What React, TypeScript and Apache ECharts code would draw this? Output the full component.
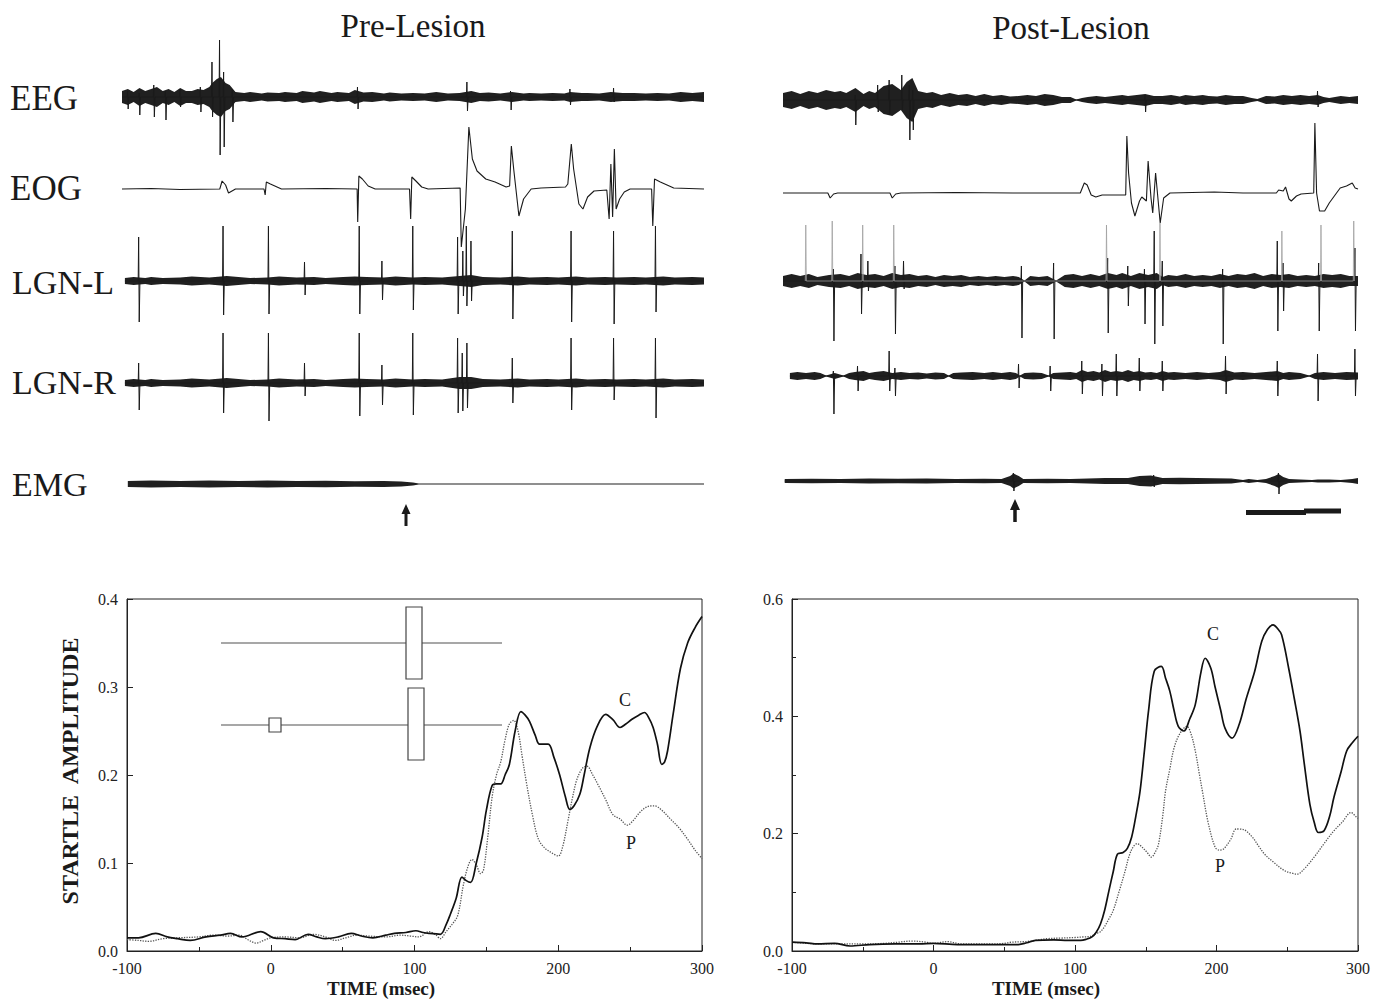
import React, { useEffect, useRef } from "react";
import * as echarts from "echarts";

const SERIF = "'Liberation Serif', 'DejaVu Serif', 'Times New Roman', serif";

// ---------------- Startle amplitude curves (time msec, amplitude) ----------------
const preC = [[-100,0.015],[-92,0.015],[-80,0.02],[-72,0.016],[-65,0.014],[-56,0.012],[-45,0.016],[-35,0.018],[-28,0.02],[-20,0.016],[-7,0.022],[2,0.015],[10,0.014],[17,0.013],[26,0.019],[32,0.016],[38,0.014],[47,0.016],[56,0.02],[63,0.017],[71,0.015],[80,0.018],[86,0.02],[94,0.021],[101,0.023],[106,0.021],[110,0.02],[118,0.019],[122,0.03],[125,0.042],[129,0.06],[133,0.084],[136,0.08],[139,0.078],[143,0.1],[147,0.129],[150,0.16],[154,0.188],[157,0.19],[160,0.19],[163,0.2],[166,0.212],[170,0.25],[174,0.272],[177,0.268],[180,0.261],[184,0.245],[187,0.235],[193,0.235],[197,0.22],[201,0.2],[205,0.175],[208,0.161],[211,0.165],[215,0.178],[218,0.2],[222,0.231],[227,0.255],[233,0.269],[238,0.263],[243,0.254],[247,0.258],[251,0.263],[256,0.268],[260,0.271],[263,0.265],[266,0.254],[269,0.235],[272,0.212],[274,0.215],[276,0.227],[280,0.27],[285,0.321],[290,0.35],[295,0.367],[300,0.38]];
const preP = [[-100,0.013],[-92,0.012],[-85,0.011],[-75,0.014],[-65,0.015],[-50,0.016],[-40,0.018],[-30,0.017],[-22,0.018],[-15,0.012],[-10,0.009],[-5,0.012],[0,0.015],[10,0.016],[20,0.015],[30,0.019],[38,0.016],[45,0.012],[52,0.015],[60,0.018],[68,0.017],[80,0.016],[90,0.018],[97,0.017],[103,0.016],[110,0.022],[115,0.018],[118,0.014],[122,0.022],[126,0.03],[130,0.04],[134,0.075],[137,0.095],[140,0.104],[143,0.098],[146,0.088],[148,0.092],[151,0.13],[154,0.175],[157,0.2],[160,0.215],[163,0.24],[166,0.258],[169,0.262],[172,0.25],[175,0.22],[178,0.19],[182,0.155],[186,0.128],[190,0.118],[195,0.112],[200,0.108],[203,0.118],[207,0.15],[210,0.175],[213,0.195],[217,0.208],[220,0.21],[224,0.2],[228,0.188],[233,0.172],[238,0.155],[243,0.15],[248,0.143],[252,0.148],[257,0.158],[262,0.164],[267,0.165],[272,0.16],[278,0.15],[284,0.14],[290,0.127],[295,0.115],[300,0.105]];
const postC = [[-100,0.015],[-90,0.014],[-82,0.012],[-70,0.013],[-59,0.0085],[-45,0.011],[-27,0.012],[-10,0.012],[0,0.013],[17,0.011],[30,0.011],[45,0.011],[60,0.011],[66,0.014],[72,0.018],[85,0.019],[95,0.018],[104,0.018],[108,0.02],[112,0.024],[115,0.032],[118,0.046],[121,0.07],[124,0.103],[127,0.135],[130,0.165],[134,0.168],[137,0.175],[140,0.194],[143,0.23],[146,0.273],[149,0.34],[152,0.41],[156,0.477],[161,0.485],[164,0.465],[167,0.443],[170,0.41],[173,0.383],[177,0.375],[181,0.395],[185,0.42],[189,0.475],[192,0.499],[196,0.482],[199,0.45],[203,0.41],[206,0.38],[211,0.363],[216,0.386],[221,0.43],[227,0.477],[232,0.528],[236,0.548],[240,0.556],[243,0.55],[246,0.539],[251,0.482],[255,0.43],[259,0.375],[262,0.32],[266,0.25],[269,0.22],[272,0.202],[276,0.205],[280,0.23],[283,0.262],[288,0.305],[292,0.341],[296,0.355],[300,0.366]];
const postP = [[-100,0.015],[-90,0.013],[-80,0.012],[-65,0.012],[-50,0.012],[-35,0.013],[-25,0.015],[-15,0.017],[-5,0.015],[0,0.013],[10,0.016],[20,0.012],[30,0.012],[40,0.012],[50,0.013],[55,0.015],[65,0.016],[72,0.018],[80,0.021],[90,0.022],[100,0.023],[106,0.024],[111,0.025],[115,0.03],[118,0.033],[121,0.042],[124,0.055],[127,0.069],[131,0.1],[135.5,0.137],[138,0.16],[141,0.177],[144,0.183],[147,0.178],[151,0.168],[154,0.16],[157,0.17],[159,0.182],[162,0.23],[164,0.273],[167,0.31],[170,0.346],[174,0.37],[179,0.383],[182,0.37],[185,0.341],[188,0.3],[190,0.273],[194,0.22],[199,0.177],[202,0.172],[205,0.174],[210,0.19],[214,0.208],[219,0.207],[225,0.195],[230,0.178],[234,0.165],[240,0.152],[248,0.137],[253,0.133],[257,0.131],[262,0.14],[269,0.16],[276,0.183],[283,0.205],[289,0.22],[295,0.236],[299,0.228],[300,0.226]];

const timeTicks = [-100, 0, 100, 200, 300];

// ---------------- Raw traces (x = % of sweep, y = deflection) ----------------
// envelopes of the noise band: [x, half-width]
const preEegEnv = [[0,6],[1,8],[2,5],[3,9],[4,6],[5,8],[6,10],[7,6],[8,8],[9,5],[10,9],[11,6],[12,6],[13,8],[14,7],[15,10],[15.5,14],[16.3,18],[17,20],[17.8,14],[18.5,12],[19.5,5],[21,4],[22,5],[24,3.5],[25,4.5],[27,4],[28,5],[30,4],[31,6],[33,4.5],[34,6],[36,4],[37,5],[39,4],[40,7],[41.5,4.5],[43,5],[45,3.5],[46,4.5],[48,3.5],[50,4],[52,3.5],[54,5],[56,3.5],[58,4],[60,6],[61.5,4],[63,4.5],[65,3.5],[67,5],[69,3.5],[70,4],[72,3.5],[74,4],[76,3.5],[77,5],[79,4],[80,4],[82,3.5],[84,5],[86,4],[88,4],[90,3.5],[92,4],[94,3.5],[96,5],[98,4],[100,5]];
// spikes: [x, up, down]
const preEegSpikes = [[1,6,12],[3,4,18],[5.5,12,20],[7.5,6,23],[10,8,10],[13.5,10,15],[15.5,35,20],[16.8,57,58],[17.5,25,50],[19,8,25],[40.5,10,12],[59.3,15,14],[66.8,6,13],[77,8,8],[84.5,9,5]];
const preEogPath = [[0,0],[5,0.5],[10,-0.5],[16.8,0],[17.2,8],[17.8,4],[18.3,-4],[19.5,0],[24.4,0],[24.6,-6],[24.8,7],[25.5,5],[27.4,0],[35,0.5],[40.4,0],[40.5,-33],[40.7,13],[41.3,10],[42.3,3],[43.5,0],[49.4,0],[49.6,-30],[49.8,12],[50.5,8],[51.5,2],[52.6,0],[58.1,1],[58.3,-58],[59.0,-20],[59.6,62],[60.2,30],[61,18],[62.5,10],[64.1,7],[66,2],[66.6,3],[66.9,43],[67.3,20],[68.2,-27],[69,-10],[70.3,0],[72,1],[76.2,2],[76.6,5],[77.2,45],[77.6,20],[78.5,-15],[79.2,-20],[80,-8],[81.1,-2],[83.3,-1],[83.7,-30],[84.0,25],[84.3,-28],[84.6,40],[84.9,-20],[85.5,-10],[86.3,-3],[87.3,0],[91.0,0],[91.2,-37],[91.5,10],[92.5,7],[94.8,1],[100,0]];
const preLgnLEnv = [[0.5,3],[2,4],[4,3],[5,4],[7,3],[10,3.5],[12,4.5],[15,3.5],[18,5],[20,4],[22,3],[25,3.5],[27,4.5],[30,3.5],[33,4],[35,3],[38,4],[40,4.5],[42,4],[45,3.5],[47,4.5],[50,3.5],[52,4],[55,3.5],[58,5],[60,6],[62,4],[65,3.5],[68,4.5],[70,3.5],[73,4],[75,3.5],[78,4.5],[80,3.5],[83,4],[85,3.5],[88,4],[90,3.5],[93,4.5],[95,3.5],[98,4],[100,3.5]];
const preLgnLSpikes = [[2.9,44,41],[17.4,55,34],[25.2,55,33],[31.4,19,14],[40.8,55,33],[44.7,20,19],[50,55,29],[57.7,44,33],[58.6,30,15],[59.2,55,25],[60,40,20],[67.1,50,38],[77.2,50,41],[84.5,50,43],[91.7,55,31]];
const preLgnREnv = [[0.5,3],[2,4],[4,3],[5,4],[7,3],[10,3.5],[12,4.5],[15,3.5],[18,5],[20,4],[22,3],[25,3.5],[27,4.5],[30,3.5],[33,4],[35,3],[38,4],[40,4.5],[42,4],[45,3.5],[47,4.5],[50,3.5],[52,4],[55,3.5],[58,6],[60,6],[62,4],[65,3.5],[68,4.5],[70,3.5],[73,4],[75,3.5],[78,4.5],[80,3.5],[83,4],[85,3.5],[88,4],[90,3.5],[93,4.5],[95,3.5],[98,4],[100,3.5]];
const preLgnRSpikes = [[2.9,20,27],[17.4,50,30],[25.2,50,38],[31.4,20,13],[40.8,50,33],[44.7,18,22],[50,50,32],[57.7,45,30],[58.5,30,28],[59.3,40,25],[67.1,25,20],[77.2,45,27],[84.5,45,17],[91.7,45,35]];
const preEmgEnv = [[1,3],[5,3.5],[10,3],[15,3.5],[20,3],[25,3.5],[30,3],[35,3.2],[40,2.8],[45,3],[48,2.5],[50,1.5],[51,0.6],[100,0.6]];

const postEegEnv = [[0,7],[1.5,9],[3,6],[4.5,9],[6,7],[7.5,10],[9,8],[10,9],[11,7],[12.6,12],[14,6],[15,9],[16,7],[17.5,14],[19,16],[20.5,10],[21.5,18],[22.5,22],[23.5,9],[25,7],[26,8],[27.5,5],[29,7],[30.5,5],[32,6],[33.5,4],[35,6],[36.5,4],[38,5],[39.5,3.5],[41,4],[42.5,5],[44,4],[45.5,6],[47,5],[48.5,3],[50,3],[51,0.5],[52,2],[53,3],[54.5,4],[56,3],[57.5,4],[59,5],[60,4],[61.5,5],[63,6],[64.5,4],[66,4],[67.5,5],[69,3.5],[70,5],[71.5,4],[73,5],[74,4],[75.5,3.5],[77,5],[78.5,4],[80,4],[81.5,2],[82.5,1],[84,4],[85.5,3.5],[87,5],[88.5,4],[90,5],[91.5,4],[93,5],[94,3],[95,2],[96,3],[97,4],[98.5,3],[100,4]];
const postEegSpikes = [[12.6,5,25],[16.5,15,12],[18.5,20,15],[20.7,25,10],[22,15,40],[22.6,10,30],[63,5,12],[93,9,7]];
const postEogPath = [[0,0],[7.8,0],[8.2,-5],[8.8,-1],[9.5,0],[18.6,0],[19,-5],[19.6,-1],[20.5,0],[30,0.5],[40,0],[51.7,0],[52.4,10],[52.9,8],[53.6,-2],[54.4,-4],[55.5,-2],[59.6,-2],[59.8,57],[60.1,20],[60.6,-10],[61.2,-23],[62,-8],[62.4,-4],[63.2,-8],[63.5,32],[64,-5],[64.3,-20],[64.8,20],[65.2,-5],[65.6,-30],[66.2,-5],[67.3,0],[75,1],[80,0],[85.8,0],[86.2,3],[87,2],[87.4,6],[88,-6],[88.4,-8],[89.3,-3],[90.1,-1],[92.3,0],[92.5,70],[92.8,0],[93.3,-18],[94.2,-18],[95,-10],[96.9,5],[98,7],[99,10],[99.5,5],[100,4]];
const postLgnLEnv = [[0,5],[1.5,7],[3,5],[4.5,7],[6,4],[8,6],[10,7],[11.5,5],[13,8],[14.5,6],[16,7],[17.5,5],[19,8],[20.5,6],[22,7],[23.5,5],[25,6],[26.5,4],[28,6],[29.5,5],[31,6],[32.5,4],[34,5],[35.5,4],[37,5],[38.5,4],[40,5],[41,4],[42,0.5],[43,5],[44.5,4],[46,5],[47.5,0.5],[49,6],[50.5,7],[52,5],[53.5,7],[55,5],[56.5,8],[58,6],[59,8],[60.5,5],[62,8],[63.5,6],[65,8],[66,4],[67,6],[68.5,5],[70,7],[71.5,5],[73,6],[74.5,5],[76,7],[77.5,5],[79,7],[80.5,6],[82,8],[83.5,5],[85,7],[86.5,6],[88,7],[89.5,5],[91,6],[92.5,5],[94,7],[95.5,6],[97,7],[98.5,5],[100,5]];
const postLgnLSpikes = [[8.8,12,60],[13.6,27,33],[14.8,20,10],[19.5,15,53],[21,20,8],[41.5,15,57],[47.1,18,58],[56.5,23,52],[60,15,25],[62.9,12,43],[64.6,50,63],[66,20,45],[76.5,12,63],[86,40,50],[87,18,30],[93.2,18,50],[99.5,33,50]];
const postLgnLFaint = [[4,56,0],[8.6,60,0],[13.9,56,0],[19.3,56,0],[56.3,56,0],[65.6,58,0],[86.8,50,0],[93.6,56,0],[99.3,60,0]];
const postLgnREnv = [[1.2,3],[2.5,4],[4,3],[5.5,4],[6.5,3],[7.5,0.5],[9,3],[10.5,0.5],[11.5,3],[12.5,4],[14,5],[15,3],[16,4],[17.5,5],[19,3],[20.5,4],[22,3],[23.5,3.5],[25,2.5],[26.5,3.5],[28,3],[28.8,0.5],[29.6,3],[31,3.5],[33,4],[35,3],[36.5,4],[38,3],[39.5,4],[40.5,3],[41.2,0.5],[42,3],[43.5,3.5],[45,3],[46.2,0.5],[47,3],[48.5,3.5],[50,4],[51,3],[52,6],[53,4],[54,5],[55,3.5],[56,6],[57,4],[58,5],[59,4],[60,6],[61,4],[62,5],[63,3.5],[64,4],[65,3],[66,5],[67,3.5],[68,4],[70,3],[72,4],[74,3],[76,4],[77,6],[78.5,3.5],[80,4],[82,3],[84,4],[86,5],[87,3],[88,4],[90,3],[91.5,0.5],[92.5,3],[94,4],[96,3],[98,4],[100,3.5]];
const postLgnRSpikes = [[8.8,5,38],[13,10,15],[18.5,25,15],[19.5,8,20],[41,12,12],[46.5,10,15],[52,15,18],[55.5,12,20],[58,22,20],[62,18,15],[66,15,15],[77,20,18],[86,15,20],[93,22,25],[99.5,27,20]];
const postEmgEnv = [[0.3,2],[5,2.3],[10,2],[15,2.5],[20,2.2],[25,2.5],[30,2],[35,2.2],[38,2],[39.5,5],[40.1,7.5],[41,5],[41.8,2],[46,2.2],[50,2],[53,2.5],[56,3],[60,3],[62,5],[64,5.5],[66,3],[69,3.2],[72,3],[75,2.7],[78,2.5],[80,1],[81,2],[82.5,1],[84,2],[85.5,5],[86.2,7],[87,4],[88,2],[90,1.5],[92,1],[93,1.5],[95,1.5],[97,1],[99,2],[100,3]];
const postEmgSpikes = [[40.1,8,10],[64.5,6,6],[86.2,8,13]];

// ---------------- layout ----------------
const PANELS = {
  pre: { left: 122, width: 582, base: [97, 189, 281, 383, 484] },
  post: { left: 783, width: 575, base: [100, 193, 281, 376, 481] },
};
const HALF = 80;

function spikesToPath(spikes: number[][], start: number, end: number) {
  const pts: number[][] = [[start, 0]];
  spikes.slice().sort((a, b) => a[0] - b[0]).forEach(([x, u, d]) => {
    pts.push([x - 0.12, 0], [x - 0.04, u], [x + 0.06, -d], [x + 0.18, 0]);
  });
  pts.push([end, 0]);
  return pts;
}

type Trace = { panel: "pre" | "post"; row: number; env?: number[][]; path?: number[][]; faint?: number[][]; width?: number };

const traces: Trace[] = [
  { panel: "pre", row: 0, env: preEegEnv, path: spikesToPath(preEegSpikes, 0, 100) },
  { panel: "pre", row: 1, path: preEogPath, width: 1.1 },
  { panel: "pre", row: 2, env: preLgnLEnv, path: spikesToPath(preLgnLSpikes, 0.5, 100) },
  { panel: "pre", row: 3, env: preLgnREnv, path: spikesToPath(preLgnRSpikes, 0.5, 100) },
  { panel: "pre", row: 4, env: preEmgEnv },
  { panel: "post", row: 0, env: postEegEnv, path: spikesToPath(postEegSpikes, 0, 100) },
  { panel: "post", row: 1, path: postEogPath, width: 1.1 },
  { panel: "post", row: 2, env: postLgnLEnv, path: spikesToPath(postLgnLSpikes, 0, 100), faint: spikesToPath(postLgnLFaint, 0, 0) },
  { panel: "post", row: 3, env: postLgnREnv, path: spikesToPath(postLgnRSpikes, 1.2, 100) },
  { panel: "post", row: 4, env: postEmgEnv, path: spikesToPath(postEmgSpikes, 0.3, 100) },
];

function buildOption() {
  const grid: any[] = [];
  const xAxis: any[] = [];
  const yAxis: any[] = [];
  const series: any[] = [];

  traces.forEach((t, i) => {
    const p = PANELS[t.panel];
    grid.push({ left: p.left, width: p.width, top: p.base[t.row] - HALF, height: HALF * 2, show: false });
    xAxis.push({ gridIndex: i, type: "value", min: 0, max: 100, show: false });
    yAxis.push({ gridIndex: i, type: "value", min: -HALF, max: HALF, show: false });
    if (t.env) {
      const env = t.env;
      series.push({
        type: "custom",
        xAxisIndex: i,
        yAxisIndex: i,
        silent: true,
        data: env,
        renderItem: (params: any, api: any) => {
          if (params.dataIndex !== 0) return null;
          const upper = env.map(([x, w]) => api.coord([x, w]));
          const lower = env.slice().reverse().map(([x, w]) => api.coord([x, -w]));
          return { type: "polygon", shape: { points: upper.concat(lower) }, style: { fill: "#202020" } };
        },
      });
    }
    if (t.path) {
      series.push({
        type: "line",
        xAxisIndex: i,
        yAxisIndex: i,
        data: t.path,
        symbol: "none",
        silent: true,
        clip: false,
        lineStyle: { color: "#1a1a1a", width: t.width ?? 1 },
      });
    }
    if (t.faint) {
      series.push({
        type: "line",
        xAxisIndex: i,
        yAxisIndex: i,
        data: t.faint.slice(1, -1),
        symbol: "none",
        silent: true,
        clip: false,
        lineStyle: { color: "#a0a0a0", width: 0.8 },
      });
    }
  });

  // startle charts
  const charts = [
    { left: 127, width: 575, max: 0.4, interval: 0.1, minor: false, c: preC, p: preP },
    { left: 792, width: 566, max: 0.6, interval: 0.2, minor: true, c: postC, p: postP },
  ];
  charts.forEach((ch, k) => {
    const gi = traces.length + k;
    grid.push({ left: ch.left, width: ch.width, top: 599, height: 352, show: true, borderColor: "#222", borderWidth: 1, backgroundColor: "transparent" });
    xAxis.push({
      gridIndex: gi, type: "value", min: -100, max: 300, interval: 100,
      axisLine: { onZero: false, lineStyle: { color: "#222", width: 1 } },
      axisTick: { inside: true, length: 6, lineStyle: { color: "#222" } },
      minorTick: { show: true, splitNumber: 2, length: 4, lineStyle: { color: "#222" } },
      splitLine: { show: false },
      minorSplitLine: { show: false },
      axisLabel: { fontFamily: SERIF, fontSize: 16, color: "#222", margin: 9, customValues: timeTicks },
    });
    yAxis.push({
      gridIndex: gi, type: "value", min: 0, max: ch.max, interval: ch.interval,
      axisLine: { onZero: false, lineStyle: { color: "#222", width: 1 } },
      axisTick: { inside: true, length: 6, lineStyle: { color: "#222" } },
      minorTick: { show: ch.minor, splitNumber: 2, length: 4, lineStyle: { color: "#222" } },
      splitLine: { show: false },
      axisLabel: { fontFamily: SERIF, fontSize: 16, color: "#222", margin: 9, formatter: (v: number) => v.toFixed(1) },
    });
    series.push({
      type: "line", xAxisIndex: gi, yAxisIndex: gi, data: ch.p, symbol: "none", smooth: 0.35, silent: true,
      lineStyle: { color: "#555", width: 1.3, type: "dotted" },
    });
    series.push({
      type: "line", xAxisIndex: gi, yAxisIndex: gi, data: ch.c, symbol: "none", smooth: 0.35, silent: true,
      lineStyle: { color: "#111", width: 1.7 },
    });
  });

  const txt = (text: string, x: number, y: number, size: number, opts: any = {}) => ({
    type: "text",
    x, y,
    rotation: opts.rotation ?? 0,
    silent: true,
    style: {
      text,
      fontFamily: SERIF,
      fontSize: size,
      fontWeight: opts.bold ? "bold" : "normal",
      fill: opts.fill ?? "#1a1a1a",
      textAlign: opts.align ?? "center",
      textVerticalAlign: "middle",
    },
  });

  const arrow = (x: number, tip: number, bottom: number, hw: number, hh: number, sw: number) => ({
    type: "polygon",
    silent: true,
    shape: {
      points: [[x, tip], [x + hw, tip + hh], [x + sw / 2, tip + hh], [x + sw / 2, bottom], [x - sw / 2, bottom], [x - sw / 2, tip + hh], [x - hw, tip + hh]],
    },
    style: { fill: "#1a1a1a" },
  });

  const graphic = [
    txt("Pre-Lesion", 413, 26, 33),
    txt("Post-Lesion", 1071, 28, 33),
    txt("EEG", 10, 98, 35, { align: "left" }),
    txt("EOG", 10, 188, 35, { align: "left" }),
    txt("LGN-L", 12, 282, 34, { align: "left" }),
    txt("LGN-R", 12, 382, 34, { align: "left" }),
    txt("EMG", 12, 484, 34, { align: "left" }),
    arrow(406, 504, 526, 4.5, 10, 3),
    arrow(1015, 499, 522, 5, 11, 3.5),
    { type: "rect", silent: true, shape: { x: 1246, y: 510, width: 60, height: 5 }, style: { fill: "#1a1a1a" } },
    { type: "rect", silent: true, shape: { x: 1304, y: 508.5, width: 37, height: 5 }, style: { fill: "#1a1a1a" } },
    txt("STARTLE  AMPLITUDE", 70, 771, 24, { bold: true, rotation: Math.PI / 2 }),
    txt("TIME (msec)", 381, 988, 19, { bold: true }),
    txt("TIME (msec)", 1046, 988, 19, { bold: true }),
    txt("C", 625, 700, 18),
    txt("P", 631, 843, 18),
    txt("C", 1213, 634, 18),
    txt("P", 1220, 866, 18),
    { type: "line", silent: true, shape: { x1: 221, y1: 643, x2: 502, y2: 643 }, style: { stroke: "#8a8a8a", lineWidth: 1.3 } },
    { type: "line", silent: true, shape: { x1: 221, y1: 725, x2: 502, y2: 725 }, style: { stroke: "#8a8a8a", lineWidth: 1.3 } },
    { type: "rect", silent: true, shape: { x: 406, y: 607, width: 16, height: 72 }, style: { fill: "#fff", stroke: "#444", lineWidth: 1.2 } },
    { type: "rect", silent: true, shape: { x: 408, y: 688, width: 16, height: 72 }, style: { fill: "#fff", stroke: "#444", lineWidth: 1.2 } },
    { type: "rect", silent: true, shape: { x: 269, y: 718, width: 12, height: 14 }, style: { fill: "#fff", stroke: "#444", lineWidth: 1.2 } },
  ];

  return { animation: false, backgroundColor: "#ffffff", grid, xAxis, yAxis, series, graphic: { elements: graphic } };
}

export default function App() {
  const ref = useRef<HTMLDivElement>(null);
  useEffect(() => {
    if (!ref.current) return;
    const chart = echarts.init(ref.current, undefined, { renderer: "svg" });
    chart.setOption(buildOption() as any);
    return () => chart.dispose();
  }, []);
  return <div ref={ref} style={{ position: "absolute", left: 0, top: 0, width: 1382, height: 999, background: "#fff" }} />;
}
